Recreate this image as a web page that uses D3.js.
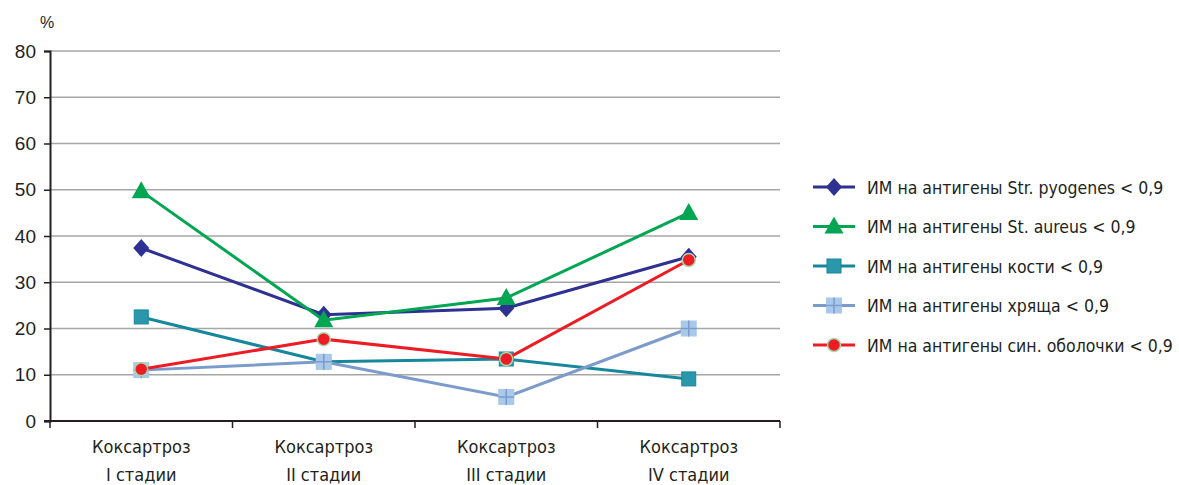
<!DOCTYPE html>
<html>
<head>
<meta charset="utf-8">
<script src="https://cdn.jsdelivr.net/npm/d3@7"></script>
<style>
  html, body { margin: 0; padding: 0; background: #fff; }
  svg { display: block; }
  .narrow { font-family: "Liberation Sans Narrow", "DejaVu Sans Condensed", "Roboto Condensed", sans-serif; }
</style>
</head>
<body>
<svg id="chart" width="1179" height="485"></svg>
<script>
// Stages of coxarthrosis (two-line labels)
const categories = ["I", "II", "III", "IV"];
const categoryLine1 = ["Коксартроз", "Коксартроз", "Коксартроз", "Коксартроз"];
const categoryLine2 = ["I стадии", "II стадии", "III стадии", "IV стадии"];

// Share of patients (%) with immune index < 0.9 for each antigen
const strPyogenes = [37.4, 23.0, 24.4, 35.5];
const stAureus    = [49.7, 21.8, 26.6, 45.0];
const kosti       = [22.5, 12.8, 13.4, 9.1];
const khryashcha  = [11.0, 12.8, 5.2, 20.0];
const sinObolochki = [11.2, 17.7, 13.4, 34.8];

const seriesNames = [
  "ИМ на антигены Str. pyogenes < 0,9",
  "ИМ на антигены St. aureus < 0,9",
  "ИМ на антигены кости < 0,9",
  "ИМ на антигены хряща < 0,9",
  "ИМ на антигены син. оболочки < 0,9"
];
const yTicks = [0, 10, 20, 30, 40, 50, 60, 70, 80];

const series = [
  { name: seriesNames[0], values: strPyogenes,  line: "#2e3192", marker: "diamond" },
  { name: seriesNames[1], values: stAureus,     line: "#00a651", marker: "triangle" },
  { name: seriesNames[2], values: kosti,        line: "#17879b", marker: "square" },
  { name: seriesNames[3], values: khryashcha,   line: "#7b9bcb", marker: "cross" },
  { name: seriesNames[4], values: sinObolochki, line: "#ed1c24", marker: "circle" }
];

const svg = d3.select("#chart");
const plot = { left: 50, right: 780, top: 51, bottom: 421 };

const x = d3.scaleBand().domain(categories).range([plot.left, plot.right]).paddingInner(0).paddingOuter(0);
const y = d3.scaleLinear().domain([0, 80]).range([plot.bottom, plot.top]);
const cx = c => x(c) + x.bandwidth() / 2;

// Gridlines
svg.append("g").selectAll("line").data(yTicks.filter(t => t > 0)).join("line")
  .attr("x1", plot.left).attr("x2", plot.right)
  .attr("y1", d => y(d)).attr("y2", d => y(d))
  .attr("stroke", "#a6a6a6").attr("stroke-width", 1.5);

// Y axis
const yAxis = svg.append("g").attr("transform", `translate(${plot.left},0)`)
  .call(d3.axisLeft(y).tickValues(yTicks).tickSize(6).tickPadding(8).tickFormat(d3.format("d")));
yAxis.select(".domain").attr("stroke", "#231f20").attr("stroke-width", 2);
yAxis.selectAll(".tick line").attr("stroke", "#231f20").attr("stroke-width", 1.5);
yAxis.selectAll(".tick text").attr("font-family", "Liberation Sans, Arial, sans-serif")
  .attr("font-size", 19).attr("fill", "#231f20");

// X axis with ticks between categories
const xAxis = svg.append("g").attr("transform", `translate(0,${plot.bottom})`);
xAxis.append("line").attr("x1", plot.left - 6).attr("x2", plot.right)
  .attr("stroke", "#231f20").attr("stroke-width", 2);
const bounds = categories.map(c => x(c)).concat([x(categories[categories.length - 1]) + x.bandwidth()]);
xAxis.selectAll("line.tk").data(bounds).join("line").attr("class", "tk")
  .attr("x1", d => d).attr("x2", d => d).attr("y1", 0).attr("y2", 7)
  .attr("stroke", "#231f20").attr("stroke-width", 1.5);

const catLabels = svg.append("g").attr("class", "narrow").attr("font-size", 18).attr("fill", "#231f20");
categories.forEach((c, i) => {
  const t = catLabels.append("text").attr("text-anchor", "middle").attr("x", cx(c));
  t.append("tspan").attr("x", cx(c)).attr("y", 453).text(categoryLine1[i]);
  t.append("tspan").attr("x", cx(c)).attr("y", 481).text(categoryLine2[i]);
});

// Unit label
svg.append("text").attr("x", 40).attr("y", 28).attr("font-family", "Liberation Sans, Arial, sans-serif")
  .attr("font-size", 16).attr("fill", "#231f20").text("%");

// Marker drawing
function drawMarker(g, type) {
  switch (type) {
    case "diamond":
      g.append("path").attr("d", "M0,-9L8,0L0,9L-8,0Z").attr("fill", "#2e3192");
      break;
    case "triangle":
      g.append("path").attr("d", "M0,-10L9.5,7L-9.5,7Z").attr("fill", "#00a651");
      break;
    case "square":
      g.append("rect").attr("x", -7).attr("y", -7).attr("width", 14).attr("height", 14)
        .attr("fill", "#2a97aa").attr("stroke", "#17879b").attr("stroke-width", 1);
      break;
    case "cross":
      g.append("rect").attr("x", -8).attr("y", -8).attr("width", 16).attr("height", 16)
        .attr("fill", "#aac8ea");
      g.append("path").attr("d", "M0,-8V8M-8,0H8").attr("stroke", "#7b9bcb").attr("stroke-width", 1.5);
      break;
    case "circle":
      g.append("circle").attr("r", 6.5).attr("fill", "#ed1c24")
        .attr("stroke", "#a8d8a8").attr("stroke-width", 1.5);
      break;
  }
}

const line = d3.line().x((d, i) => cx(categories[i])).y(d => y(d));

series.forEach(s => {
  const g = svg.append("g");
  g.append("path").datum(s.values).attr("d", line)
    .attr("fill", "none").attr("stroke", s.line).attr("stroke-width", 3);
  s.values.forEach((v, i) => {
    const m = g.append("g").attr("transform", `translate(${cx(categories[i])},${y(v)})`);
    drawMarker(m, s.marker);
  });
});

// Legend
const legend = svg.append("g").attr("transform", "translate(813,187)");
const legendTexts = [];
series.forEach((s, i) => {
  const row = legend.append("g").attr("transform", `translate(0,${i * 39.5})`);
  row.append("line").attr("x1", 0).attr("x2", 42).attr("stroke", s.line).attr("stroke-width", 3);
  const m = row.append("g").attr("transform", "translate(21,0)");
  drawMarker(m, s.marker);
  const tg = row.append("g").attr("transform", "translate(54,0)");
  legendTexts.push(tg.append("text").attr("class", "narrow").attr("x", 0).attr("y", 6.5)
    .attr("font-size", 18).attr("fill", "#231f20").text(s.name));
});
// Condense legend labels horizontally so the longest one fits the space to the right edge
const longest = d3.max(legendTexts, t => t.node().getComputedTextLength());
const squeeze = Math.min(1, 306 / longest);
legendTexts.forEach(t => t.attr("transform", `scale(${squeeze},1)`));
</script>
</body>
</html>
